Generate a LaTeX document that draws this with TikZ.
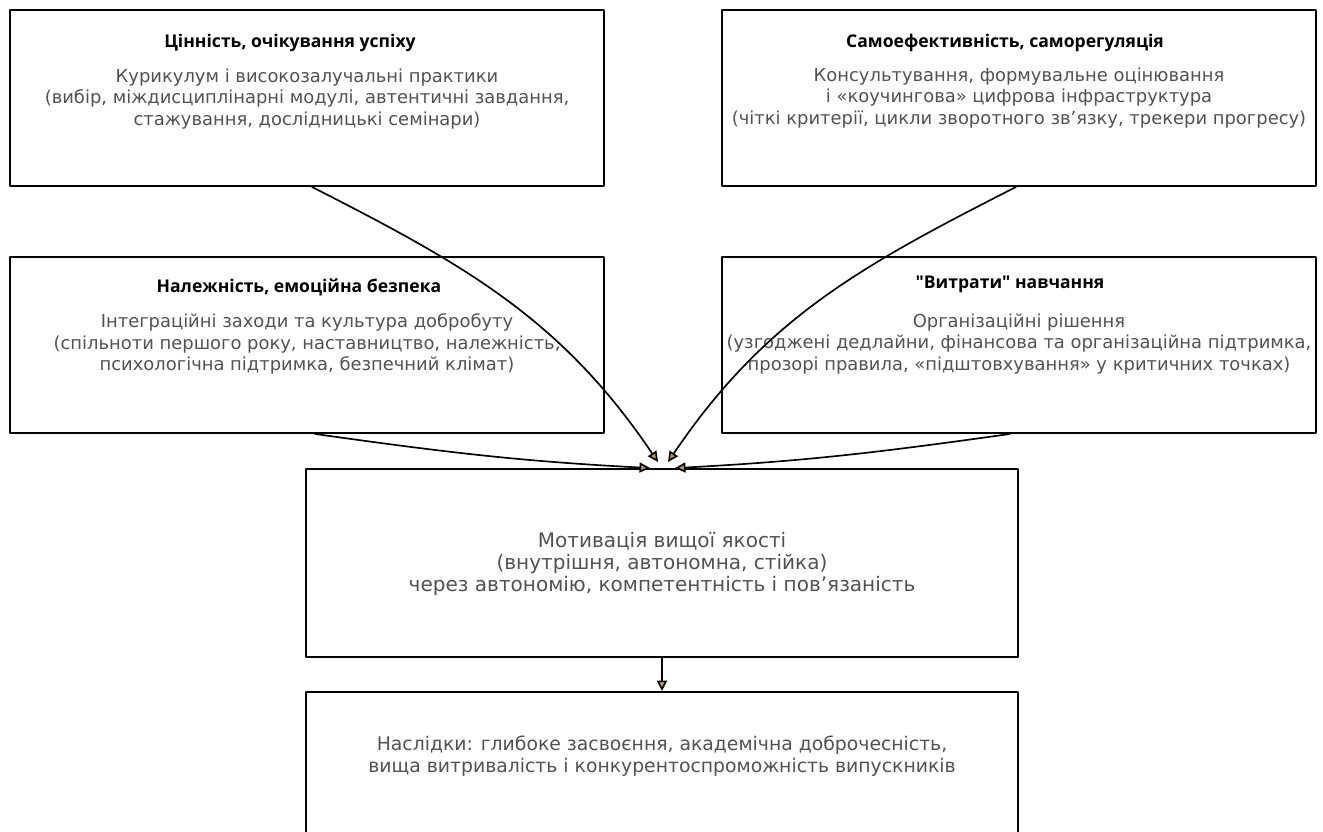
\documentclass[tikz,border=0pt]{standalone}
\usepackage{fontspec}
\setmainfont{DejaVu Sans}
\newfontfamily\headfont{Open Sans}
\usepackage{xcolor}
\usetikzlibrary{arrows.meta,positioning,calc}
\definecolor{bodygray}{HTML}{525252}
\definecolor{tipfill}{HTML}{C39A4E}

\begin{document}
\begin{tikzpicture}[
		x=0.02cm,
		y=-0.02cm,
		>=Latex,
		line cap=round,
		line join=round,
		box/.style={draw=black,line width=1.1pt,fill=white,inner sep=0pt},
		sidebox/.style={box,minimum width=11.88cm,minimum height=3.52cm},
		midbox/.style={box,minimum width=14.26cm,minimum height=3.76cm},
		headline/.style={font=\headfont\bfseries\fontsize{10}{12}\selectfont},
		note/.style={font=\fontsize{10.2}{12.1}\selectfont,align=center,text=bodygray},
		mainnote/.style={font=\fontsize{11.4}{12.5}\selectfont,align=center,text=bodygray},
		endnote/.style={font=\fontsize{10.7}{12.5}\selectfont,align=center,text=bodygray},
		flow/.style={-{Triangle[length=0.21cm,width=0.2cm,fill=tipfill]},line width=0.95pt,draw=black}
	]
	
	% Page frame
	\useasboundingbox[clip] (0,0) rectangle (1323,832);
	\fill[white] (0,0) rectangle (1323,832);
	
	% Upper boxes
	\node[sidebox] (value)  at (307,98)  {};
	\node[sidebox] (selfeff) at (1019,98) {};
	
	% Middle boxes
	\node[sidebox] (belong) at (307,345)  {};
	\node[sidebox] (costs)  at (1019,345) {};
	
	% Central and bottom boxes
	\node[midbox] (motiv)   at (662,563) {};
	\node[midbox] (outcome) at (662,786) {};
	
	% Box titles
	\node[headline] (valuetitle)   at (290,43)  {Цінність, очікування успіху};
	\node[headline] (selfefftitle) at (1005,43) {Самоефективність, саморегуляція};
	\node[headline] (belongtitle)  at (299,287) {Належність, емоційна безпека};
	\node[headline] (coststitle)   at (1010,284) {"Витрати" навчання};
	
	% Box texts
	\node[note] (valuetext) at (307,99)
	{Курикулум і високозалучальні практики\\(вибір, міждисциплінарні модулі, автентичні завдання,\\стажування, дослідницькі семінари)};
	\node[note] (selfefftext) at (1019,98)
	{Консультування, формувальне оцінювання\\і «коучингова» цифрова інфраструктура\\(чіткі критерії, цикли зворотного зв'язку, трекери прогресу)};
	\node[note] (belongtext) at (307,344)
	{Інтеграційні заходи та культура добробуту\\(спільноти першого року, наставництво, належність,\\психологічна підтримка, безпечний клімат)};
	\node[note] (coststext) at (1019,344)
	{Організаційні рішення\\(узгоджені дедлайни, фінансова та організаційна підтримка,\\прозорі правила, «підштовхування» у критичних точках)};
	
	\node[mainnote] (motivtext) at (662,564)
	{Мотивація вищої якості\\(внутрішня, автономна, стійка)\\через автономію, компетентність і пов’язаність};
	\node[endnote] (outcometext) at (662,756)
	{Наслідки: глибоке засвоєння, академічна доброчесність,\\вища витривалість і конкурентоспроможність випускників};
	
	% Curved arrows from the upper boxes
	\draw[flow] ([xshift=0.1cm]value.south) to[out=-27,in=124] ([xshift=-0.08cm,yshift=0.12cm]motiv.north);
	\draw[flow] ([xshift=-0.06cm]selfeff.south) to[out=-153,in=56] ([xshift=0.12cm,yshift=0.12cm]motiv.north);
	
	% Flat arrows from the middle boxes
	\draw[flow] ([xshift=0.16cm]belong.south) to[out=-8,in=177] ([xshift=-0.24cm]motiv.north);
	\draw[flow] ([xshift=-0.18cm]costs.south) to[out=-172,in=3] ([xshift=0.26cm]motiv.north);
	
	% Down to outcomes
	\draw[flow] (motiv) -- (outcome);
	
\end{tikzpicture}
\end{document}
